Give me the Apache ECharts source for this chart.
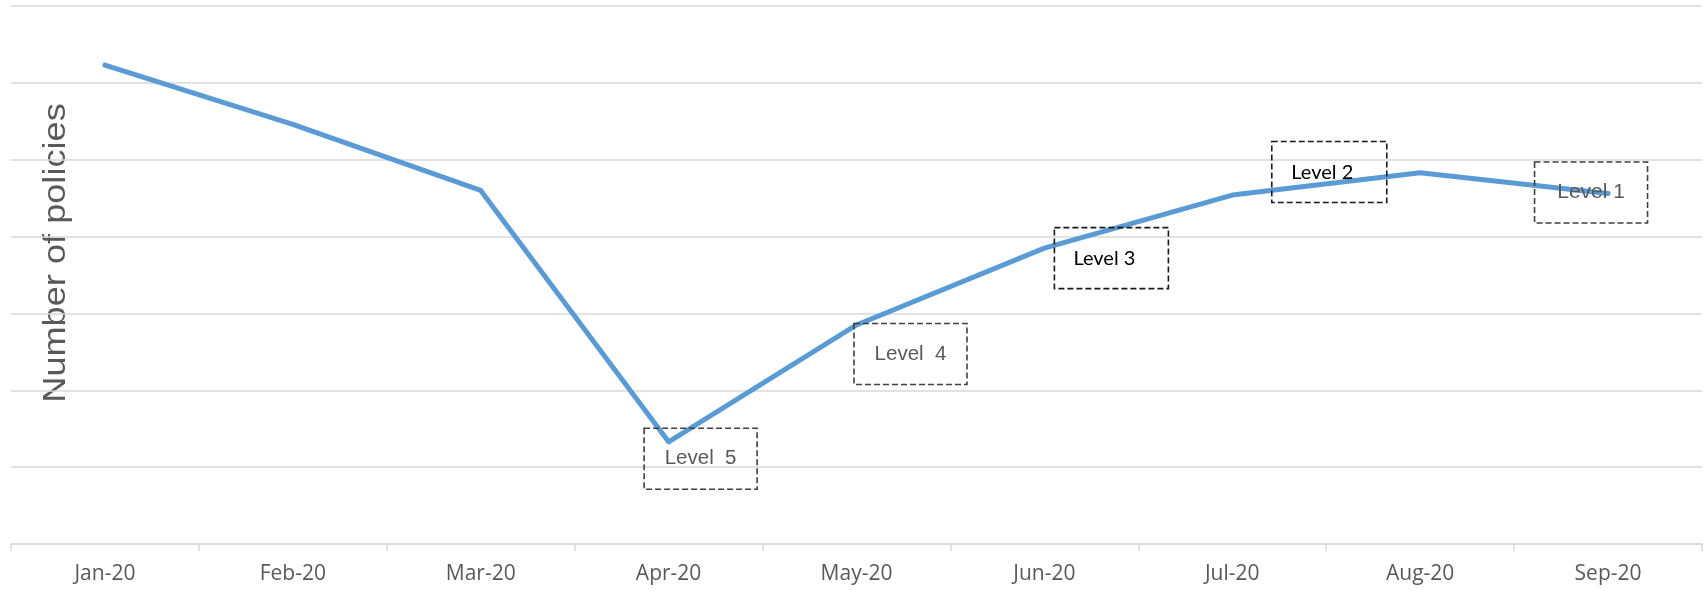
<!DOCTYPE html>
<html>
<head>
<meta charset="utf-8">
<script src="https://cdn.jsdelivr.net/npm/echarts@6/dist/echarts.min.js"></script>
<style>
  html, body { margin: 0; padding: 0; background: #ffffff; }
  #chart { width: 1704px; height: 591px; }
</style>
</head>
<body>
<div id="chart"></div>
<script>
// Monthly categories on the x axis
const months = ['Jan-20', 'Feb-20', 'Mar-20', 'Apr-20', 'May-20', 'Jun-20', 'Jul-20', 'Aug-20', 'Sep-20'];
// Number of policies per month
const policies = [62.3, 54.6, 46.0, 13.3, 28.5, 38.5, 45.4, 48.3, 45.6];
// Alert level noted against each month (blank where none)
const levelNotes = ['', '', '', 'Level  5', 'Level  4', 'Level 3', 'Level 2', '', 'Level 1'];
const axisTitle = 'Number of policies';

const GRID = '#d9d9d9';
const TEXT = '#595959';

// Box styles for the level callouts
const boxStyles = {
  'Level  5': { offset: [32, 17], color: TEXT, fontFamily: 'Liberation Sans, Arial, sans-serif', fontSize: 20.5, borderColor: '#404040', padding: [0, 0, 0, 0], width: 113 },
  'Level  4': { offset: [54, 29], color: TEXT, fontFamily: 'Liberation Sans, Arial, sans-serif', fontSize: 20.5, borderColor: '#404040', padding: [0, 0, 0, 0], width: 113 },
  'Level 3':  { offset: [67, 10], color: '#000000', fontFamily: 'Lato, sans-serif', fontSize: 20, borderColor: '#1a1a1a', padding: [0, 14, 0, 0], width: 100 },
  'Level 2':  { offset: [97, -23], color: '#000000', fontFamily: 'Lato, sans-serif', fontSize: 20, borderColor: '#1a1a1a', padding: [0, 14, 0, 0], width: 101 },
  'Level 1':  { offset: [-17, -1], color: TEXT, fontFamily: 'Liberation Sans, Arial, sans-serif', fontSize: 21, borderColor: '#404040', padding: [0, 0, 0, 0], width: 113 }
};

const seriesData = policies.map(function (v, i) {
  const note = levelNotes[i];
  if (!note) return { value: v };
  const s = boxStyles[note];
  return {
    value: v,
    label: {
      show: true,
      formatter: note,
      position: 'inside',
      offset: s.offset,
      color: s.color,
      fontFamily: s.fontFamily,
      fontSize: s.fontSize,
      width: s.width,
      height: 61,
      padding: s.padding,
      align: 'center',
      verticalAlign: 'middle',
      borderColor: s.borderColor,
      borderWidth: 1.6,
      borderType: [6, 3]
    }
  };
});

const chart = echarts.init(document.getElementById('chart'), null, { renderer: 'canvas' });

chart.setOption({
  animation: false,
  backgroundColor: '#ffffff',
  grid: { left: 11, right: 2, top: 6, bottom: 47, containLabel: false },
  xAxis: {
    type: 'category',
    data: months,
    boundaryGap: true,
    axisLine: { show: true, lineStyle: { color: GRID, width: 1.5 } },
    axisTick: { show: true, length: 7, lineStyle: { color: GRID, width: 1.5 } },
    axisLabel: { color: TEXT, fontFamily: 'Open Sans, sans-serif', fontSize: 21, margin: 20 }
  },
  yAxis: {
    type: 'value',
    min: 0,
    max: 70,
    interval: 10,
    axisLine: { show: false },
    axisTick: { show: false },
    axisLabel: { show: false },
    splitLine: { show: true, lineStyle: { color: GRID, width: 1.5 } }
  },
  graphic: [{
    type: 'text',
    x: 56,
    y: 253,
    rotation: Math.PI / 2,
    scaleX: 1.13,
    style: {
      text: axisTitle,
      font: '32px "Liberation Sans", Arial, sans-serif',
      fill: TEXT,
      textAlign: 'center',
      textVerticalAlign: 'middle',
      align: 'center',
      verticalAlign: 'middle'
    }
  }],
  series: [{
    type: 'line',
    data: seriesData,
    showSymbol: true,
    symbol: 'circle',
    symbolSize: 0.1,
    itemStyle: { color: '#5B9BD5' },
    lineStyle: { color: '#5B9BD5', width: 5, cap: 'round', join: 'round' },
    label: { show: false },
    z: 3
  }]
});
</script>
</body>
</html>
